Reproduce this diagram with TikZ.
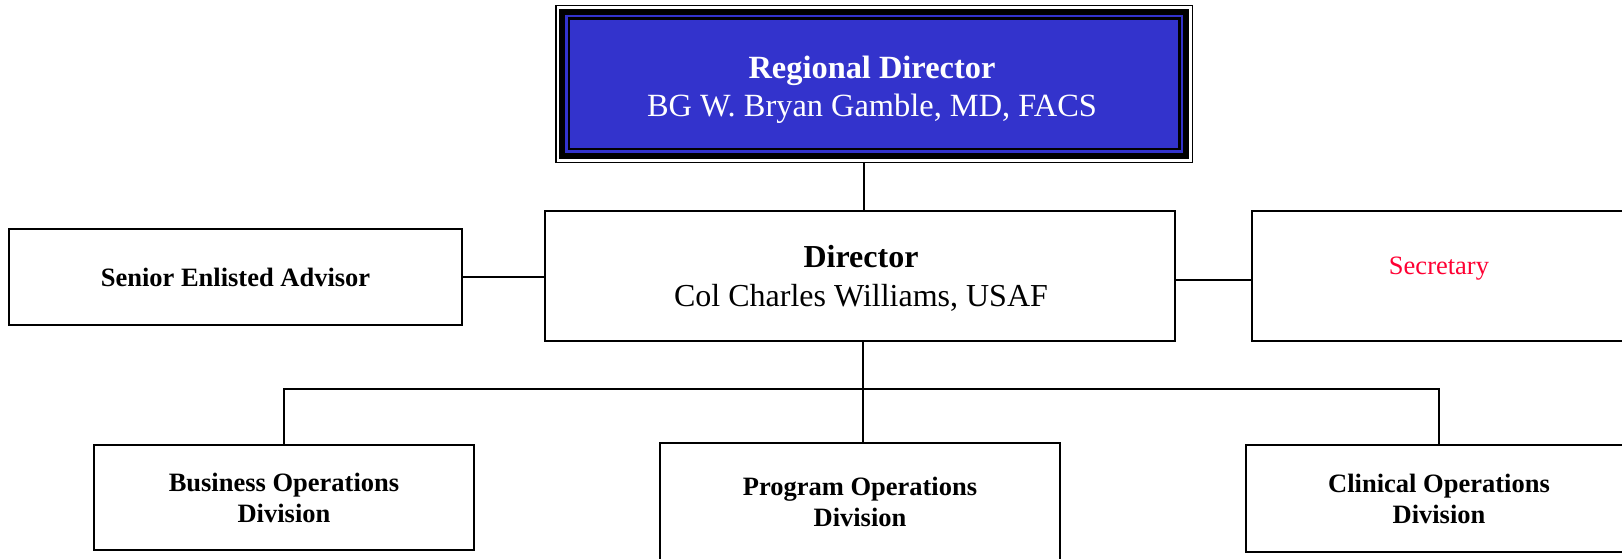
\documentclass[tikz,border=0pt]{standalone}
\usepackage{fontspec}
\setmainfont{Liberation Serif}
\usetikzlibrary{backgrounds,calc}
\definecolor{rdblue}{RGB}{51,51,204}
\definecolor{secred}{RGB}{255,0,51}
\tikzset{
  orgbox/.style={draw=black, line width=1.6pt, fill=white, inner sep=0pt, align=center},
  conn/.style={draw=black, line width=1.6pt},
  bigtext/.style={font=\fontsize{32}{38.5}\selectfont},
  divtext/.style={font=\fontsize{26.5}{31}\selectfont\bfseries},
}
\begin{document}
\begin{tikzpicture}[x=1pt,y=-1pt]
\useasboundingbox (0,0) rectangle (1622,559);
\clip (0,0) rectangle (1622,559);

% Regional Director box with multiple border
\node[draw=black, line width=1.5pt, inner sep=0pt,
      minimum width=636.5pt, minimum height=156.5pt] (rd) at (874,84) {};
\begin{scope}[on background layer]
  \fill[black] ($(rd.north west)+(4,4)$) rectangle ($(rd.south east)+(-4,-4)$);
  \fill[rdblue] ($(rd.north west)+(10,10)$) rectangle ($(rd.south east)+(-10,-10)$);
  \fill[black] ($(rd.north west)+(12.5,12.5)$) rectangle ($(rd.south east)+(-12.5,-12.5)$);
  \fill[rdblue] ($(rd.north west)+(15,15)$) rectangle ($(rd.south east)+(-15,-15)$);
\end{scope}
\node[text=white, align=center, inner sep=0pt,
      font=\fontsize{32.4}{38.5}\selectfont] (rdtext) at (872,90)
  {\textbf{Regional Director}\\BG W. Bryan Gamble, MD, FACS};

% Director
\node[orgbox, minimum width=630pt, minimum height=130pt] (dir) at (860,276) {};
\node[bigtext, align=center, inner sep=0pt] (dirtext) at (861,278.5)
  {\textbf{Director}\\Col Charles Williams, USAF};

% Senior Enlisted Advisor
\node[orgbox, minimum width=453pt, minimum height=96pt, divtext] (sea) at (235.5,277)
  {Senior Enlisted Advisor};

% Secretary
\node[orgbox, minimum width=374pt, minimum height=130pt] (sec) at (1439,276) {};
\node[text=secred, font=\fontsize{26.5}{31}\selectfont, inner sep=0pt] (sectext) at (1439,269) {Secretary};

% Divisions
\node[orgbox, minimum width=380pt, minimum height=105pt, divtext] (bus) at (284,497.5)
  {Business Operations\\Division};
\node[orgbox, minimum width=400pt, minimum height=117pt, divtext] (prog) at (860,501.5)
  {Program Operations\\Division};
\node[orgbox, minimum width=386pt, minimum height=107pt, divtext] (clin) at (1439,498.5)
  {Clinical Operations\\Division};

% Connectors
\coordinate (busline) at (0,389);
\draw[conn] ([xshift=4pt]dir.north) -- ([xshift=4pt]dir.north |- rd.south);
\draw[conn] (sea.east) -- (sea.east -| dir.west);
\draw[conn] ([yshift=-4pt]dir.east) -- ([yshift=-4pt]dir.east -| sec.west);
\draw[conn] ([xshift=3pt]dir.south) -- ([xshift=3pt]dir.south |- busline);
\draw[conn] (bus.north) -- (bus.north |- busline) -- (clin.north |- busline) -- (clin.north);
\draw[conn] ([xshift=3pt]prog.north) -- ([xshift=3pt]prog.north |- busline);
\end{tikzpicture}
\end{document}
